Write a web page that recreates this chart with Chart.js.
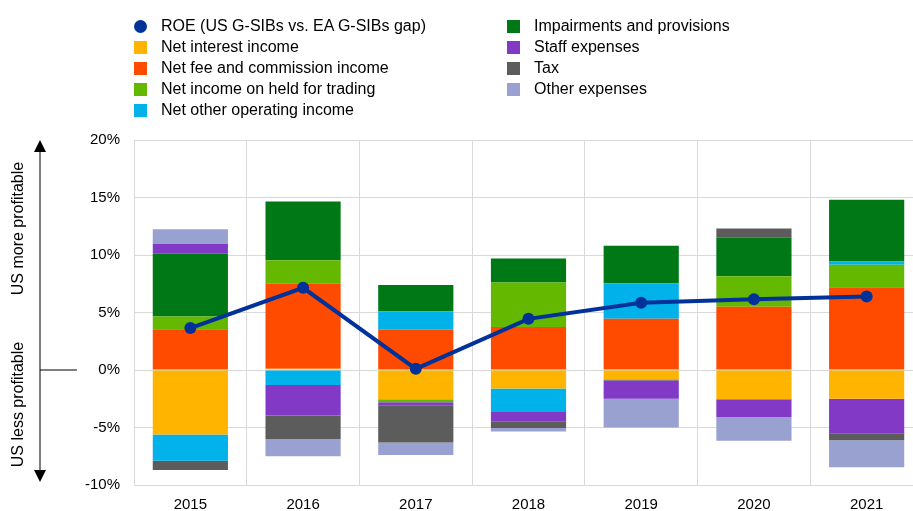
<!DOCTYPE html>
<html>
<head>
<meta charset="utf-8">
<script src="https://cdn.jsdelivr.net/npm/chart.js@4.4.1/dist/chart.umd.min.js"></script>
<style>
    html, body { margin: 0; padding: 0; background: #fff; overflow: hidden; }
    #wrap { position: relative; width: 913px; height: 511px; overflow: hidden; }
    #roeChart { position: absolute; left: 0; top: 0; }
    #legend { position: absolute; left: 0; top: 0; font-family: "Liberation Sans", Arial, sans-serif; font-size: 16px; color: #000; }
    .leg-item { position: absolute; white-space: nowrap; line-height: 18px; }
    .leg-box { position: absolute; width: 13px; height: 13px; top: 3px; }
    .leg-text { position: absolute; left: 27px; top: 0; }
</style>
</head>
<body>
<div id="wrap">
    <canvas id="roeChart" width="929" height="511"></canvas>
    <div id="legend"></div>
</div>
<script>
const years = ["2015", "2016", "2017", "2018", "2019", "2020", "2021"];
const yTicks = [-10, -5, 0, 5, 10, 15, 20];

const roeGap = [3.65, 7.15, 0.1, 4.45, 5.85, 6.15, 6.4];
const netInterest = [-5.6, 0.1, -2.55, -1.6, -0.8, -2.55, -2.5];
const netFee = [3.55, 7.4, 3.5, 3.75, 4.45, 5.5, 7.2];
const heldTrading = [1.1, 2.05, -0.25, 3.85, -0.1, 2.65, 1.95];
const otherOperating = [-2.3, -1.3, 1.6, -2.05, 3.1, 0, 0.3];
const impairments = [5.45, 5.1, 2.3, 2.1, 3.25, 3.35, 5.35];
const staffExpenses = [0.85, -2.65, -0.3, -0.8, -1.6, -1.55, -3.0];
const tax = [-0.8, -2.05, -3.2, -0.6, 0, 0.8, -0.6];
const otherExpenses = [1.3, -1.5, -1.1, -0.3, -2.5, -2.05, -2.35];

const barSeries = [
    { label: "Net interest income", data: netInterest, color: "#FFB400" },
    { label: "Net fee and commission income", data: netFee, color: "#FF4B00" },
    { label: "Net income on held for trading", data: heldTrading, color: "#65B800" },
    { label: "Net other operating income", data: otherOperating, color: "#00B1EA" },
    { label: "Impairments and provisions", data: impairments, color: "#007816" },
    { label: "Staff expenses", data: staffExpenses, color: "#8139C6" },
    { label: "Tax", data: tax, color: "#5C5C5C" },
    { label: "Other expenses", data: otherExpenses, color: "#98A1D0" }
];
const roeLabel = "ROE (US G-SIBs vs. EA G-SIBs gap)";
const roeColor = "#003299";
const gridColor = "#d9d9d9";
const fontFamily = "'Liberation Sans', Arial, sans-serif";

// arrow + side captions left of the y axis
const sideArrows = {
    id: "sideArrows",
    afterDraw(chart) {
        const ctx = chart.ctx;
        const y = chart.scales.y;
        const area = chart.chartArea;
        const x = 40;
        const top = area.top;
        const bottom = area.bottom - 3;
        const zero = y.getPixelForValue(0);
        ctx.save();
        ctx.strokeStyle = "#000";
        ctx.fillStyle = "#000";
        ctx.lineWidth = 1;
        ctx.beginPath();
        ctx.moveTo(x, top + 10);
        ctx.lineTo(x, bottom - 10);
        ctx.moveTo(x, zero);
        ctx.lineTo(77, zero);
        ctx.stroke();
        ctx.beginPath();
        ctx.moveTo(x, top);
        ctx.lineTo(x - 6, top + 12);
        ctx.lineTo(x + 6, top + 12);
        ctx.closePath();
        ctx.fill();
        ctx.beginPath();
        ctx.moveTo(x, bottom);
        ctx.lineTo(x - 6, bottom - 12);
        ctx.lineTo(x + 6, bottom - 12);
        ctx.closePath();
        ctx.fill();

        ctx.font = "16px " + fontFamily;
        ctx.textAlign = "center";
        ctx.textBaseline = "middle";
        [["US more profitable", 12.3], ["US less profitable", -3]].forEach(([txt, v]) => {
            ctx.save();
            ctx.translate(19, y.getPixelForValue(v));
            ctx.rotate(-Math.PI / 2);
            ctx.fillText(txt, 0, 0);
            ctx.restore();
        });
        ctx.restore();
    }
};

const datasets = [{
    type: "line",
    label: roeLabel,
    data: roeGap,
    borderColor: roeColor,
    backgroundColor: roeColor,
    borderWidth: 4,
    pointRadius: 6,
    pointBackgroundColor: roeColor,
    pointBorderWidth: 0,
    order: 0
}];
barSeries.forEach(s => {
    datasets.push({
        type: "bar",
        label: s.label,
        data: s.data,
        backgroundColor: s.color,
        borderWidth: 0,
        barPercentage: 0.667,
        categoryPercentage: 1,
        order: 1
    });
});

const chart = new Chart(document.getElementById("roeChart"), {
    type: "bar",
    data: { labels: years, datasets },
    plugins: [sideArrows],
    options: {
        responsive: false,
        animation: false,
        layout: { padding: { top: 140, right: 0, left: 0, bottom: 0 } },
        plugins: { legend: { display: false }, tooltip: { enabled: false } },
        scales: {
            x: {
                stacked: true,
                grid: { color: gridColor, drawTicks: false, offset: true },
                border: { color: gridColor },
                ticks: { color: "#000", padding: 11, font: { size: 15, family: fontFamily } },
                afterFit: s => { s.height = 26; }
            },
            y: {
                stacked: true,
                min: yTicks[0],
                max: yTicks[yTicks.length - 1],
                afterBuildTicks: s => { s.ticks = yTicks.map(v => ({ value: v })); },
                grid: { color: gridColor, drawTicks: false },
                border: { color: gridColor },
                ticks: {
                    color: "#000",
                    padding: 14,
                    font: { size: 15, family: fontFamily },
                    callback: v => v + "%"
                },
                afterFit: s => { s.width = 134; }
            }
        }
    }
});

// two-column legend, column-major like the original
function buildLegend() {
    const legend = document.getElementById("legend");
    const items = [{ label: roeLabel, color: roeColor, round: true }].concat(barSeries);
    items.forEach((it, i) => {
        const col = i < 5 ? 0 : 1;
        const row = i < 5 ? i : i - 5;
        const div = document.createElement("div");
        div.className = "leg-item";
        div.style.left = (col === 0 ? 134 : 507) + "px";
        div.style.top = (17 + row * 21) + "px";
        const box = document.createElement("span");
        box.className = "leg-box";
        box.style.background = it.color;
        if (it.round) box.style.borderRadius = "50%";
        const txt = document.createElement("span");
        txt.className = "leg-text";
        txt.textContent = it.label;
        div.appendChild(box);
        div.appendChild(txt);
        legend.appendChild(div);
    });
}
buildLegend();
</script>
</body>
</html>
